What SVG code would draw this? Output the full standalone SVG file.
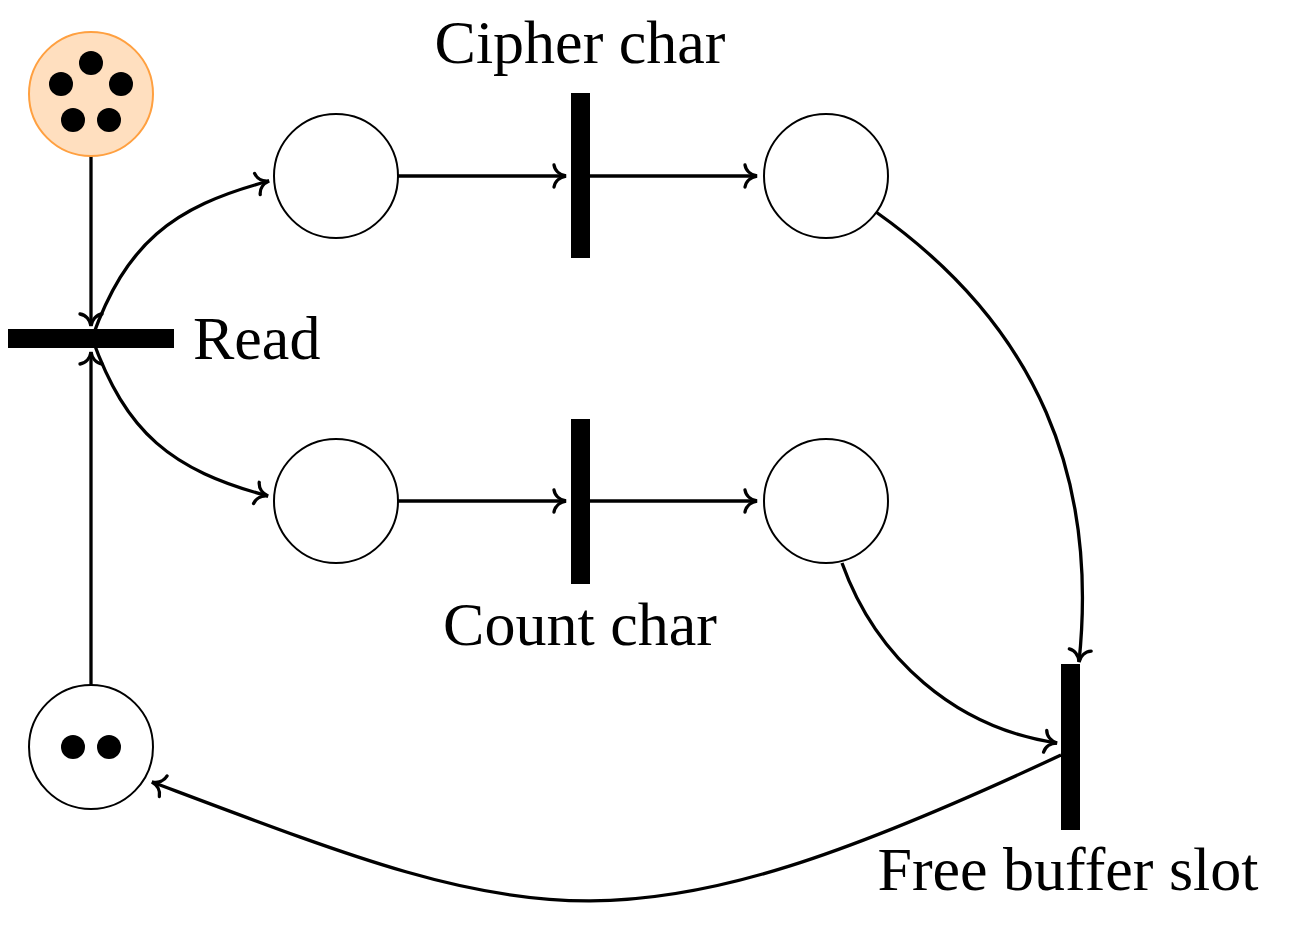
<svg xmlns="http://www.w3.org/2000/svg" width="1299" height="946" viewBox="0 0 1299 946">
<style>
.place{fill:#ffffff;stroke:#000000;stroke-width:2}
.start{fill:#ffdfbf;stroke:#ffa040;stroke-width:2}
.token{fill:#000000}
.trans{fill:#000000}
.arc{fill:none;stroke:#000000;stroke-width:3.3;marker-end:url(#to)}
.label{font-family:"Liberation Serif","Times New Roman",serif;font-size:62px;fill:#000000}
</style>
<defs>
<marker id="to" markerUnits="userSpaceOnUse" refX="0" refY="0" markerWidth="40" markerHeight="40" orient="auto" overflow="visible">
<path d="M -12,-11 C -11,-5 -6,-1 0,0 C -6,1 -11,5 -12,11" fill="none" stroke="#000000" stroke-width="3.3" stroke-linecap="round"/>
</marker>
</defs>
<rect width="1299" height="946" fill="#ffffff"/>
<g id="connectors">
<path class="arc" d="M 91,156 L 91,326"/>
<path class="arc" d="M 91,686 L 91,352"/>
<path class="arc" d="M 92,338 C 126,244 171,207 269,181"/>
<path class="arc" d="M 92,338 C 126,433 171,470 268,496"/>
<path class="arc" d="M 398,176 L 566,176"/>
<path class="arc" d="M 590,176 L 757,176"/>
<path class="arc" d="M 398,501 L 566,501"/>
<path class="arc" d="M 590,501 L 757,501"/>
<path class="arc" d="M 876,212 C 1040,328 1098,480 1079,662"/>
<path class="arc" d="M 842,563 C 876,658 955,728 1057,743"/>
<path class="arc" d="M 1061,755 C 614,964 535,926 152,782"/>
</g>
<g id="place-start">
<circle class="start" cx="91" cy="94" r="62"/>
<circle class="token" cx="91" cy="63" r="12"/>
<circle class="token" cx="61" cy="84" r="12"/>
<circle class="token" cx="121" cy="84" r="12"/>
<circle class="token" cx="73" cy="120" r="12"/>
<circle class="token" cx="109" cy="120" r="12"/>
</g>
<g id="trans-read">
<rect class="trans" x="8" y="329" width="166" height="19"/>
<text class="label" x="193" y="359">Read</text>
</g>
<g id="place-p1">
<circle class="place" cx="336" cy="176" r="62"/>
</g>
<g id="place-p3">
<circle class="place" cx="336" cy="501" r="62"/>
</g>
<g id="trans-cipher">
<rect class="trans" x="571" y="93" width="19" height="165"/>
<text class="label" x="580" y="63" text-anchor="middle">Cipher char</text>
</g>
<g id="trans-count">
<rect class="trans" x="571" y="419" width="19" height="165"/>
<text class="label" x="580" y="645" text-anchor="middle">Count char</text>
</g>
<g id="place-p2">
<circle class="place" cx="826" cy="176" r="62"/>
</g>
<g id="place-p4">
<circle class="place" cx="826" cy="501" r="62"/>
</g>
<g id="trans-free">
<rect class="trans" x="1061" y="664" width="19" height="166"/>
<text class="label" x="1068" y="890" text-anchor="middle">Free buffer slot</text>
</g>
<g id="place-buffer">
<circle class="place" cx="91" cy="747" r="62"/>
<circle class="token" cx="73" cy="747" r="12"/>
<circle class="token" cx="109" cy="747" r="12"/>
</g>
</svg>
